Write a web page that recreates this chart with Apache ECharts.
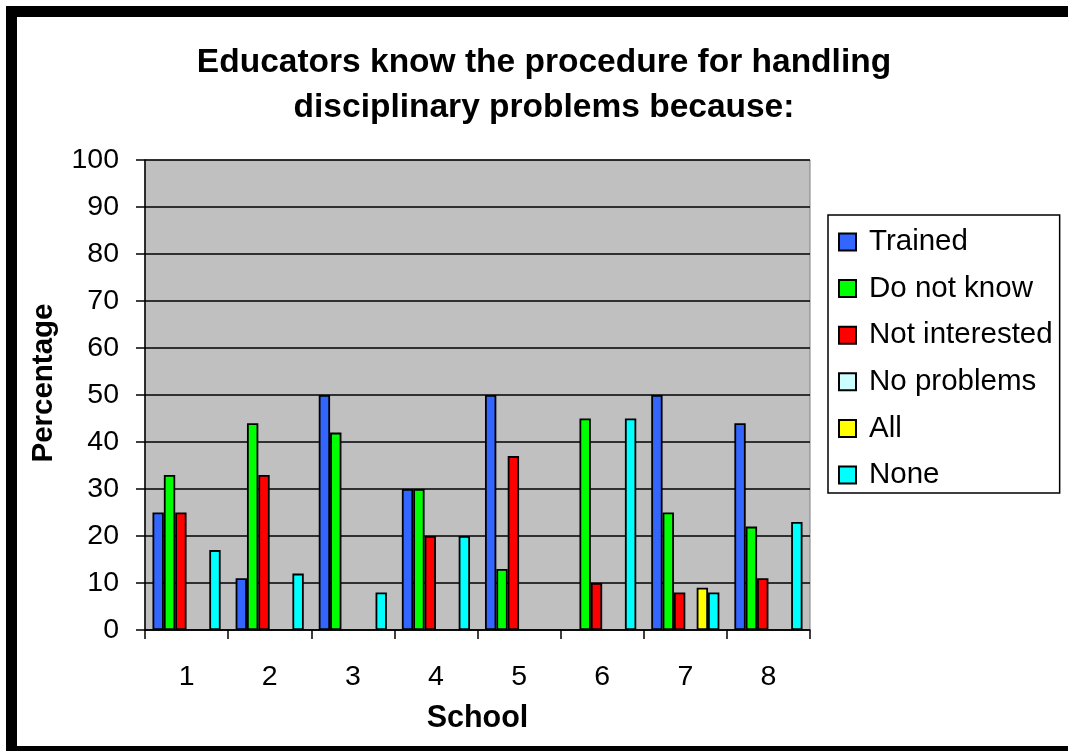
<!DOCTYPE html>
<html>
<head>
<meta charset="utf-8">
<title>Educators know the procedure for handling disciplinary problems</title>
<script src="https://cdn.jsdelivr.net/npm/echarts@6/dist/echarts.min.js"></script>
<style>
  html, body { margin: 0; padding: 0; background: #ffffff; }
  #chart { width: 1068px; height: 751px; }
</style>
</head>
<body>
<div id="chart"></div>
<script>
// Schools on the x axis
const schools = ['1', '2', '3', '4', '5', '6', '7', '8'];

// Percentage of educators per reason (null = no bar)
const trained       = [25, 11, 50, 30, 50, null, 50, 44];
const doNotKnow     = [33, 44, 42, 30, 13, 45, 25, 22];
const notInterested = [25, 33, null, 20, 37, 10, 8, 11];
const noProblems    = [null, null, null, null, null, null, null, null];
const allReasons    = [null, null, null, null, null, null, 9, null];
const noneReason    = [17, 12, 8, 20, null, 45, 8, 23];

const seriesNames  = ['Trained', 'Do not know', 'Not interested', 'No problems', 'All', 'None'];
const seriesData   = [trained, doNotKnow, notInterested, noProblems, allReasons, noneReason];
const seriesColors = ['#3366FF', '#00FF00', '#FF0000', '#CCFFFF', '#FFFF00', '#00FFFF'];

const FONT = 'Liberation Sans, Arial, sans-serif';

const chart = echarts.init(document.getElementById('chart'), null, { renderer: 'canvas' });

chart.setOption({
  backgroundColor: '#ffffff',
  animation: false,
  textStyle: { fontFamily: FONT, color: '#000' },
  title: {
    text: 'Educators know the procedure for handling\ndisciplinary problems because:',
    left: 544,
    top: 40,
    textAlign: 'center',
    padding: 0,
    textStyle: {
      fontFamily: FONT,
      fontSize: 33.5,
      fontWeight: 'bold',
      lineHeight: 45,
      color: '#000'
    }
  },
  // outer frame: heavy black edge on the top, left and bottom
  graphic: [{
    type: 'rect',
    silent: true,
    z: 100,
    shape: { x: 11.5, y: 11.5, width: 1090, height: 740 },
    style: { fill: 'none', stroke: '#000', lineWidth: 11 }
  }],
  legend: {
    orient: 'vertical',
    left: 828,
    top: 215,
    padding: [12, 7, 3, 10],
    itemWidth: 17,
    itemHeight: 17,
    itemGap: 16.6,
    icon: 'rect',
    borderColor: '#000',
    borderWidth: 1.5,
    backgroundColor: '#ffffff',
    textStyle: { fontFamily: FONT, fontSize: 29.5, color: '#000', padding: [0, 0, 0, 8] },
    data: seriesNames
  },
  grid: {
    left: 145,
    right: 258,
    top: 160,
    bottom: 121,
    show: true,
    backgroundColor: '#C0C0C0',
    borderColor: '#808080',
    borderWidth: 1
  },
  xAxis: {
    type: 'category',
    data: schools,
    boundaryGap: true,
    name: 'School',
    nameLocation: 'middle',
    nameGap: 73,
    nameTextStyle: { fontFamily: FONT, fontSize: 30.5, fontWeight: 'bold', color: '#000' },
    axisLine: { show: true, lineStyle: { color: '#000', width: 1.5 } },
    axisTick: { show: true, alignWithLabel: false, inside: false, length: 9, lineStyle: { color: '#000', width: 1.5 } },
    axisLabel: { fontFamily: FONT, fontSize: 28.5, color: '#000', margin: 33 },
    splitLine: { show: false }
  },
  yAxis: {
    type: 'value',
    min: 0,
    max: 100,
    interval: 10,
    name: 'Percentage',
    nameLocation: 'middle',
    nameGap: 86,
    nameTextStyle: { fontFamily: FONT, fontSize: 29.5, fontWeight: 'bold', color: '#000', padding: [0, 0, 0, 24] },
    axisLine: { show: true, lineStyle: { color: '#000', width: 1.5 } },
    axisTick: { show: true, inside: false, length: 9, lineStyle: { color: '#000', width: 1.5 } },
    axisLabel: { fontFamily: FONT, fontSize: 28.5, color: '#000', margin: 26 },
    splitLine: { show: true, lineStyle: { color: '#000', width: 1.5 } }
  },
  series: seriesNames.map((name, i) => ({
    name: name,
    type: 'bar',
    data: seriesData[i],
    barGap: '0%',
    barCategoryGap: '18%',
    itemStyle: { color: seriesColors[i], borderColor: '#000', borderWidth: 1.8 }
  }))
});
</script>
</body>
</html>
